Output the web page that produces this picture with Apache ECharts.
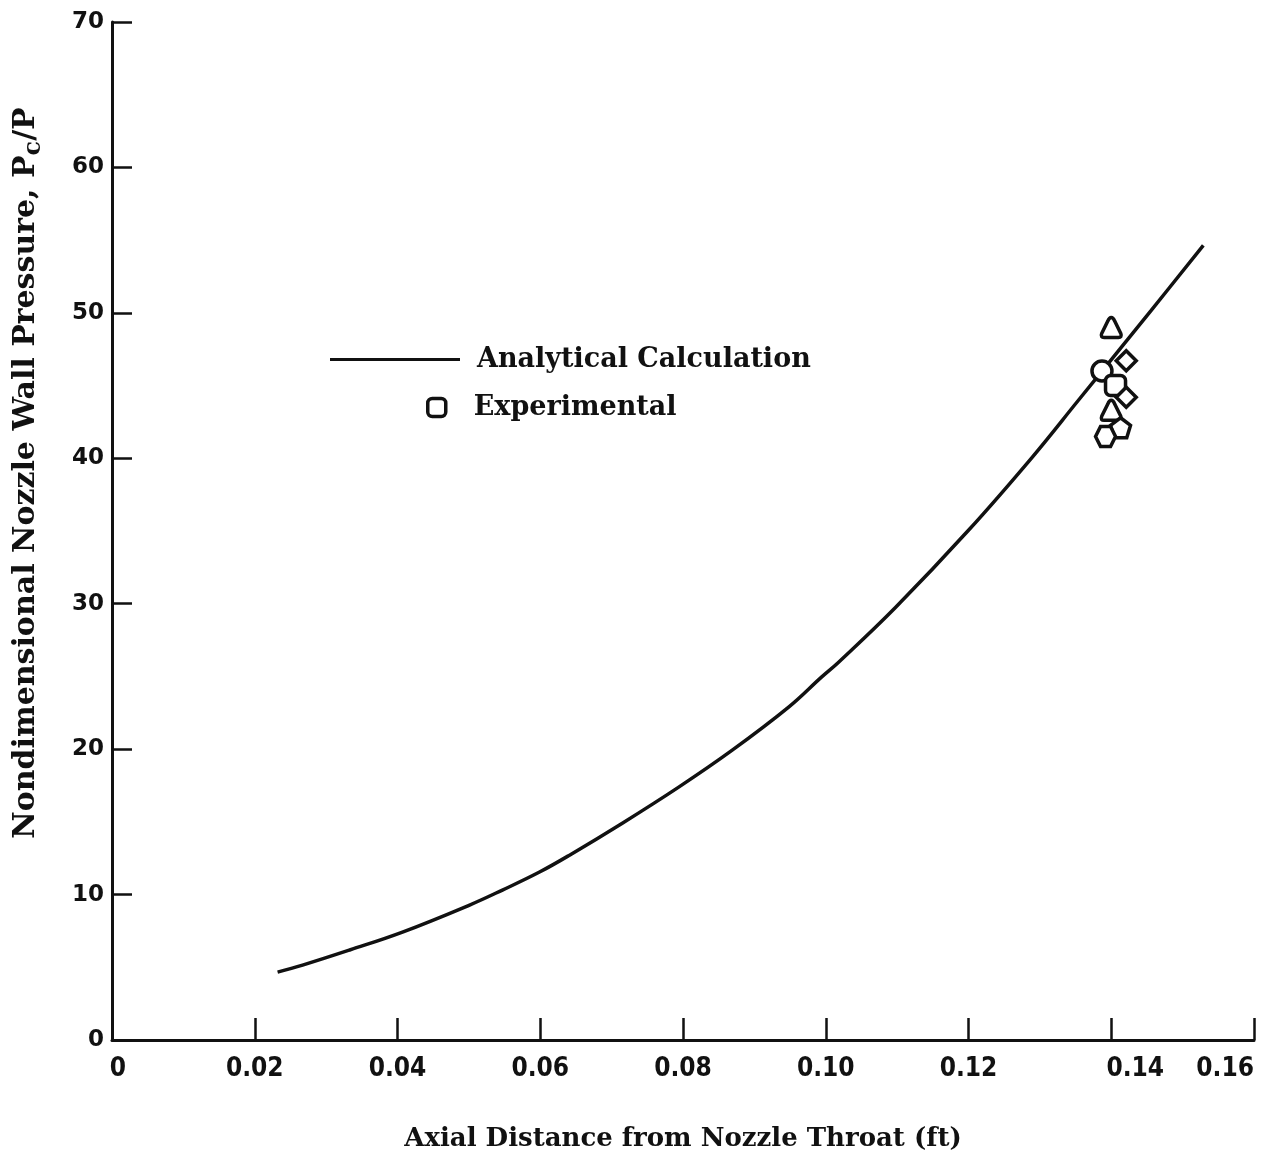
<!DOCTYPE html>
<html>
<head>
<meta charset="utf-8">
<script src="https://cdn.jsdelivr.net/npm/echarts@6/dist/echarts.min.js"></script>
<style>
html,body{margin:0;padding:0;background:#fff;}
#chart{width:1274px;height:1161px;}
</style>
</head>
<body>
<div id="chart"></div>
<script>
// Analytical calculation curve (x in ft, y = Pc/P)
const lineX = [0.0232, 0.0267, 0.0333, 0.0407, 0.0501, 0.0547, 0.0599, 0.0641, 0.0715, 0.0794, 0.0869, 0.0948, 0.0994, 0.1018, 0.1098, 0.1200, 0.1288, 0.1354, 0.1414, 0.1456, 0.1529];
const lineY = [4.67, 5.15, 6.19, 7.42, 9.28, 10.31, 11.55, 12.71, 14.91, 17.39, 19.93, 22.89, 24.95, 25.98, 29.76, 35.05, 40.0, 43.99, 47.63, 50.17, 54.64];

// Experimental points
const expX = [0.1400, 0.1421, 0.1387, 0.1406, 0.1421, 0.1400, 0.1413, 0.1392];
const expY = [49.0, 46.7, 46.0, 45.0, 44.2, 43.3, 42.1, 41.5];
const expShapes = ['triangle', 'diamond', 'circle', 'square', 'diamond', 'triangle', 'pentagon', 'hexagon'];

// Axis ticks
const xTicks = [0, 0.02, 0.04, 0.06, 0.08, 0.10, 0.12, 0.14, 0.16];
const yTicks = [0, 10, 20, 30, 40, 50, 60, 70];

const shapeSymbols = {
  triangle: 'path://M0,-10 C1,-10 2,-9 3,-6 L8,6 C9,9 8,10 6,10 L-6,10 C-8,10 -9,9 -8,6 L-3,-6 C-2,-9 -1,-10 0,-10 Z',
  diamond: 'diamond',
  circle: 'circle',
  square: 'roundRect',
  pentagon: 'path://M0,-10 L9.5,-3.1 L5.9,8.1 L-5.9,8.1 L-9.5,-3.1 Z',
  hexagon: 'path://M-5,-9 L5,-9 L10,0 L5,9 L-5,9 L-10,0 Z'
};

const serif = '"DejaVu Serif", "Liberation Serif", serif';
const narrow = '"Liberation Sans Narrow", "DejaVu Sans Condensed", sans-serif';

const chart = echarts.init(document.getElementById('chart'));
chart.setOption({
  backgroundColor: '#ffffff',
  animation: false,
  grid: {left: 112, right: 20, top: 22, bottom: 121, containLabel: false, outerBoundsMode: 'none'},
  legend: [
    {
      data: [{name: 'Analytical Calculation', icon: 'rect'}],
      left: 325, top: 341,
      itemWidth: 130, itemHeight: 3,
      itemStyle: {color: '#111'},
      textStyle: {fontFamily: serif, fontWeight: 'bold', fontSize: 27, color: '#111', padding: [0, 0, 0, 12]}
    },
    {
      data: [{name: 'Experimental', icon: 'roundRect'}],
      left: 421, top: 389,
      itemWidth: 18, itemHeight: 18,
      itemStyle: {color: '#fff', borderColor: '#111', borderWidth: 3.5, opacity: 1},
      textStyle: {fontFamily: serif, fontWeight: 'bold', fontSize: 27, color: '#111', padding: [0, 0, 0, 23]}
    }
  ],
  xAxis: {
    type: 'value',
    min: 0, max: 0.16, interval: 0.02,
    name: 'Axial Distance from Nozzle Throat (ft)',
    nameLocation: 'middle',
    nameGap: 86,
    nameTextStyle: {fontFamily: serif, fontWeight: 'bold', fontSize: 26, color: '#111'},
    axisLine: {show: true, lineStyle: {color: '#111', width: 3}},
    axisTick: {show: true, inside: true, length: 22, lineStyle: {color: '#111', width: 2.5}},
    splitLine: {show: false},
    axisLabel: {
      margin: 16,
      alignMaxLabel: 'right',
      fontFamily: narrow,
      fontWeight: 'bold', fontSize: 26, color: '#111',
      formatter: function (v) {
        if (Math.abs(v) < 1e-9) return '{z|0}';
        if (Math.abs(v - xTicks[7]) < 1e-9) return '{r|' + v.toFixed(2) + '}';
        return v.toFixed(2);
      },
      rich: {
        z: {fontFamily: narrow, fontWeight: 'bold', fontSize: 26, color: '#111', padding: [0, 0, 0, 12]},
        r: {fontFamily: narrow, fontWeight: 'bold', fontSize: 26, color: '#111', padding: [0, 0, 0, 48]}
      }
    }
  },
  yAxis: {
    type: 'value',
    min: 0, max: 70, interval: 10,
    name: 'Nondimensional Nozzle Wall Pressure, P{sub|c}/P',
    nameLocation: 'middle',
    nameGap: 66,
    nameTextStyle: {
      fontFamily: serif, fontWeight: 'bold', fontSize: 30, color: '#111',
      padding: [0, 0, 0, 116],
      rich: {sub: {fontFamily: serif, fontWeight: 'bold', fontSize: 24, color: '#111', padding: [16, 0, 0, 0]}}
    },
    axisLine: {show: true, lineStyle: {color: '#111', width: 3}},
    axisTick: {show: true, inside: true, length: 20, lineStyle: {color: '#111', width: 2.5}},
    splitLine: {show: false},
    axisLabel: {
      margin: 8,
      fontFamily: '"DejaVu Sans", sans-serif',
      fontWeight: 'bold', fontSize: 23, color: '#111',
      formatter: function (v) { return String(v); }
    }
  },
  series: [
    {
      name: 'Analytical Calculation',
      type: 'line',
      smooth: 0.4,
      symbol: 'none',
      showSymbol: false,
      lineStyle: {color: '#111', width: 3.5},
      itemStyle: {color: '#111'},
      data: lineX.map((x, i) => [x, lineY[i]]),
      z: 2
    },
    {
      name: 'Experimental',
      type: 'scatter',
      symbolSize: 20,
      itemStyle: {color: '#ffffff', borderColor: '#111', borderWidth: 3.5, opacity: 1},
      data: expX.map((x, i) => ({value: [x, expY[i]], symbol: shapeSymbols[expShapes[i]]})),
      z: 3
    }
  ]
});
</script>
</body>
</html>
